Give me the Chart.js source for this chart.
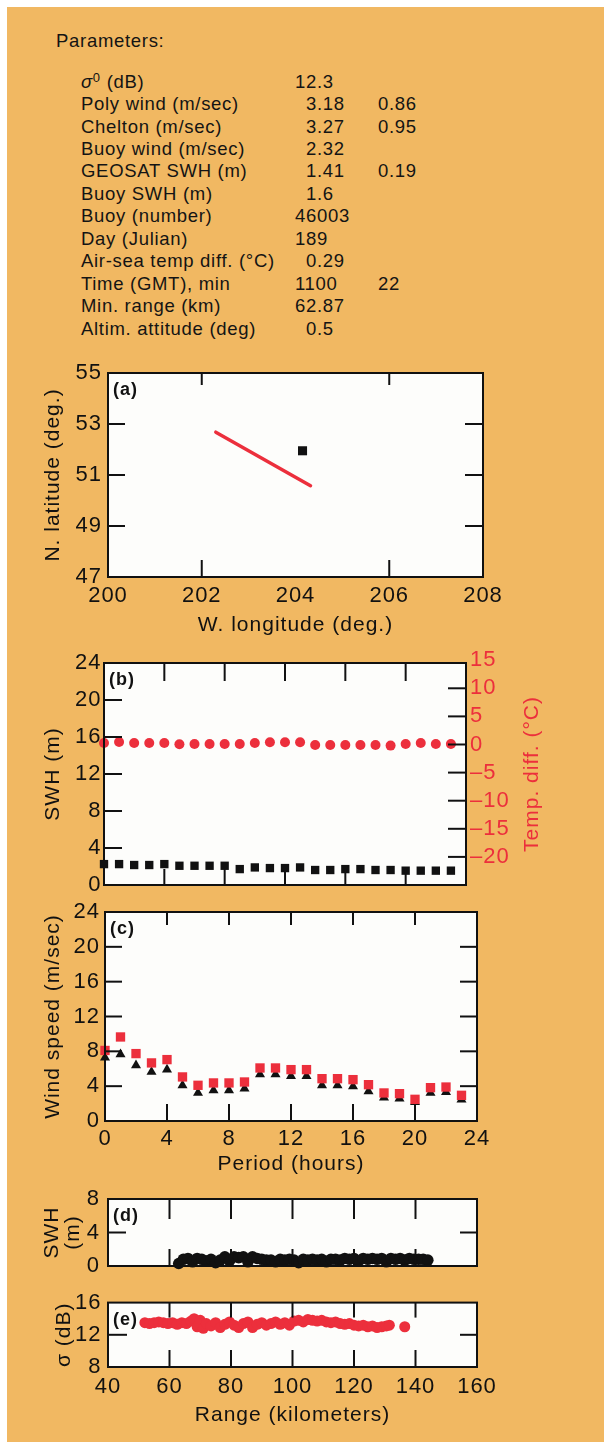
<!DOCTYPE html>
<html>
<head>
<meta charset="utf-8">
<script src="https://cdn.jsdelivr.net/npm/chart.js@4"></script>
<style>
  body { margin: 0; background: #fff; }
  #page { position: relative; width: 606px; height: 1442px; overflow: hidden; }
  #bg { position: absolute; left: 7px; top: 7px; width: 597px; height: 1435px; background: #f1b862; }
  .txt { position: absolute; font: 18.5px "Liberation Sans", Arial, sans-serif; letter-spacing: 0.7px;
         line-height: 22px; color: #141414; white-space: nowrap; }
  .txt sup { font-size: 13px; vertical-align: 6px; line-height: 0; }
  canvas { position: absolute; left: 0; }
</style>
</head>
<body>
<div id="page"><div id="bg"></div></div>
<script>
// parameter table
const paramLabels = ['<i>σ</i><sup>0</sup> (dB)', 'Poly wind (m/sec)', 'Chelton (m/sec)', 'Buoy wind (m/sec)',
  'GEOSAT SWH (m)', 'Buoy SWH (m)', 'Buoy (number)', 'Day (Julian)', 'Air-sea temp diff. (°C)',
  'Time (GMT), min', 'Min. range (km)', 'Altim. attitude (deg)'];
const paramValues = ['12.3', '3.18', '3.27', '2.32', '1.41', '1.6', '46003', '189', '0.29', '1100', '62.87', '0.5'];
const paramExtra = ['', '0.86', '0.95', '', '0.19', '', '', '', '', '22', '', ''];

// (a) track and buoy position
const trackLon = [202.3, 204.32];
const trackLat = [52.68, 50.58];
const buoyLon = [204.15];
const buoyLat = [51.95];
const lonTicks = [200, 202, 204, 206, 208];
const latTicks = [55, 53, 51, 49, 47];

// (b) and (c) hourly series
const hours = [0, 1, 2, 3, 4, 5, 6, 7, 8, 9, 10, 11, 12, 13, 14, 15, 16, 17, 18, 19, 20, 21, 22, 23];
const buoySwh = [2.26, 2.26, 2.16, 2.16, 2.26, 2.08, 2.08, 2.08, 2.08, 1.72, 1.9, 1.83,
  1.83, 1.9, 1.62, 1.62, 1.72, 1.72, 1.62, 1.62, 1.55, 1.55, 1.55, 1.55];
const tempDiff = [0.25, 0.45, 0.25, 0.25, 0.25, 0.05, 0.1, 0.1, 0.1, 0.1, 0.25, 0.4,
  0.4, 0.4, -0.1, -0.1, -0.1, -0.1, -0.1, -0.2, 0.1, 0.25, 0.1, 0.1];
const windAltim = [8.1, 9.65, 7.74, 6.67, 7.05, 5.06, 4.1, 4.37, 4.37, 4.48, 6.09, 6.09,
  5.9, 5.9, 4.86, 4.86, 4.75, 4.17, 3.22, 3.14, 2.49, 3.83, 3.9, 2.95];
const windBuoy = [7.28, 7.66, 6.4, 5.63, 5.9, 4.1, 3.22, 3.52, 3.52, 3.72, 5.36, 5.36,
  5.17, 5.17, 4.1, 4.1, 3.98, 3.41, 2.68, 2.57, 2.18, 3.22, 3.33, 2.45];
const hourTicks = [0, 4, 8, 12, 16, 20, 24];
const swhTicks = [24, 20, 16, 12, 8, 4, 0];
const tempTicks = [15, 10, 5, 0, -5, -10, -15, -20];

// (d) altimeter SWH along range
const dRange = [63, 64.5, 66, 67.5, 69, 70.5, 72, 73.5, 75, 76.5, 78, 79.5, 81, 82.5, 84, 85.5, 87, 88.5,
  90, 91.5, 93, 94.5, 96, 97.5, 99, 100.5, 102, 103.5, 105, 106.5, 108, 109.5, 111, 112.5, 114, 115.5,
  117, 118.5, 120, 121.5, 123, 124.5, 126, 127.5, 129, 130.5, 132, 133.5, 135, 136.5, 138, 139.5, 141, 142.5, 144];
const dSwh = [0.3, 0.8, 0.9, 0.5, 0.9, 0.8, 0.6, 0.8, 0.4, 0.7, 1.1, 0.6, 1.1, 1.0, 1.1, 0.5, 1.1, 0.9,
  0.8, 0.7, 0.7, 0.5, 0.8, 0.7, 0.8, 0.7, 0.4, 0.8, 0.7, 0.8, 0.7, 0.8, 0.5, 0.8, 0.8, 0.7,
  0.9, 0.8, 0.9, 0.6, 0.9, 0.8, 0.9, 0.8, 0.9, 0.5, 0.9, 0.8, 0.9, 0.7, 0.9, 0.8, 0.8, 0.8, 0.7];

// (e) sigma0 along range
const eRange = [52, 53.5, 55, 56.5, 58, 59.5, 61, 62.5, 64, 65.5, 67, 68, 69, 70, 71, 72, 73.5, 75, 76.5,
  78, 79.5, 81, 82.5, 84, 85.5, 87, 88.5, 90, 91.5, 93, 94.5, 96, 97.5, 99, 100.5, 102, 103.5, 105,
  106.5, 108, 109.5, 111, 112.5, 114, 115.5, 117, 118.5, 120, 121.5, 123, 124.5, 126, 127.5, 129,
  130.5, 131.5, 136.5];
const eSigma = [13.5, 13.4, 13.5, 13.6, 13.5, 13.4, 13.5, 13.3, 13.5, 13.4, 13.7, 14.0, 13.0, 13.8, 12.8,
  13.4, 13.1, 13.5, 12.9, 13.3, 13.6, 13.2, 12.9, 13.4, 13.6, 12.9, 13.3, 13.5, 13.2, 13.4, 13.6, 13.3,
  13.5, 13.2, 13.7, 13.8, 13.6, 13.9, 13.8, 13.7, 13.8, 13.6, 13.5, 13.6, 13.4, 13.3, 13.4, 13.2, 13.1,
  13.2, 13.0, 13.1, 12.9, 13.0, 13.1, 13.2, 13.0];
const rangeTicks = [40, 60, 80, 100, 120, 140, 160];

const RED = '#ec2f3c', INK = '#111';
const page = document.getElementById('page');

// text block
function addText(html, left, top) {
  const d = document.createElement('div');
  d.className = 'txt';
  d.style.left = left + 'px';
  d.style.top = top + 'px';
  d.innerHTML = html;
  page.appendChild(d);
}
addText('Parameters:', 56, 30);
paramLabels.forEach((lab, i) => {
  const top = 70.6 + i * 22.45;
  addText(lab, 81, top);
  addText(paramValues[i], /^\d\./.test(paramValues[i]) ? 306 : 295, top);
  if (paramExtra[i]) addText(paramExtra[i], 378, top);
});

Chart.defaults.font.family = "'Liberation Sans', Arial, sans-serif";
Chart.defaults.color = INK;

const pts = (xs, ys) => xs.map((x, i) => ({x, y: ys[i]}));

// white plot box, frame, inward ticks and panel letter
function framePlugin(f, top) {
  return {
    id: 'frame',
    beforeDraw(chart) {
      const {ctx, chartArea: a} = chart;
      ctx.letterSpacing = '1px';
      ctx.fillStyle = '#fdfdfb';
      ctx.fillRect(a.left, a.top, a.right - a.left, a.bottom - a.top);
    },
    afterDatasetsDraw(chart) {
      const {ctx, chartArea: a, scales} = chart;
      const len = f.len;
      ctx.save();
      ctx.strokeStyle = INK;
      ctx.lineWidth = 2;
      ctx.lineCap = 'butt';
      const seg = (x1, y1, x2, y2) => { ctx.beginPath(); ctx.moveTo(x1, y1); ctx.lineTo(x2, y2); ctx.stroke(); };
      (f.xTicks || []).forEach(v => {
        const px = scales.x.getPixelForValue(v);
        seg(px, a.top, px, a.top + len.top);
        seg(px, a.bottom, px, a.bottom - len.bottom);
      });
      (f.leftTicks || []).forEach(v => {
        const py = scales.y.getPixelForValue(v);
        seg(a.left, py, a.left + len.left, py);
      });
      (f.rightTicks || []).forEach(v => {
        const py = scales[f.rightAxis || 'y'].getPixelForValue(v);
        seg(a.right, py, a.right - len.right, py);
      });
      ctx.strokeRect(a.left, a.top, a.right - a.left, a.bottom - a.top);
      ctx.fillStyle = INK;
      ctx.font = "bold 18px 'Liberation Sans', Arial, sans-serif";
      ctx.textBaseline = 'middle';
      ctx.textAlign = 'left';
      ctx.fillText(f.label, a.left + 5, a.top + 17);
      (f.extra || []).forEach(t => {
        ctx.save();
        ctx.translate(t.x, t.y - top);
        ctx.rotate(-Math.PI / 2);
        ctx.fillStyle = t.color;
        ctx.font = "21px 'Liberation Sans', Arial, sans-serif";
        ctx.textAlign = 'center';
        ctx.fillText(t.text, 0, 0);
        ctx.restore();
      });
      ctx.restore();
    }
  };
}

function axis(o) {
  return {
    type: 'linear', position: o.pos, min: o.min, max: o.max,
    afterBuildTicks: s => { s.ticks = o.labels.map(v => ({value: v})); },
    afterFit: s => { if (o.pos === 'bottom') s.height = o.size; else s.width = o.size; },
    grid: {display: false, drawTicks: false},
    border: {display: false},
    ticks: {display: o.show !== false, padding: o.pad || 0, color: o.color || INK, autoSkip: false,
      maxRotation: 0, font: {size: 22, lineHeight: 1}, callback: o.fmt || (v => v)},
    title: o.title ? {display: true, text: o.title, color: o.color || INK,
      font: {size: 21, lineHeight: o.lh || 1.2}, padding: o.titlePad} : {display: false}
  };
}

function panel(p) {
  const cv = document.createElement('canvas');
  cv.width = 606; cv.height = p.height;
  cv.style.top = p.top + 'px';
  page.appendChild(cv);
  const a = p.area;
  const scales = {
    x: axis(Object.assign({pos: 'bottom', size: p.top + p.height - a.b}, p.x)),
    y: axis(Object.assign({pos: 'left', size: a.l}, p.y))
  };
  if (p.y2) scales.y2 = axis(Object.assign({pos: 'right', size: 606 - a.r}, p.y2));
  return new Chart(cv, {
    type: 'scatter',
    data: {datasets: p.datasets},
    options: {
      responsive: false, animation: false,
      layout: {padding: {top: a.t - p.top, left: 0, bottom: 0, right: p.y2 ? 0 : 606 - a.r}},
      plugins: {legend: {display: false}, tooltip: {enabled: false}},
      scales
    },
    plugins: [framePlugin(p.frame, p.top)]
  });
}

const dot = (data, color, style, r, axisId) => ({
  data, yAxisID: axisId || 'y', pointStyle: style, pointRadius: r, pointBackgroundColor: color,
  pointBorderWidth: 0, showLine: false, clip: false
});

// (a)
panel({
  top: 350, height: 290, area: {l: 108, t: 373, r: 483, b: 577},
  x: {min: 200, max: 208, labels: lonTicks, pad: 8, title: 'W. longitude (deg.)', titlePad: {bottom: 2.4}},
  y: {min: 47, max: 55, labels: latTicks, pad: 6, title: 'N. latitude (deg.)', titlePad: {top: 40.5}},
  frame: {label: '(a)', len: {top: 12, bottom: 17, left: 17, right: 18}, xTicks: [202, 206], leftTicks: [53, 51, 49], rightTicks: [53, 51, 49]},
  datasets: [
    {data: pts(trackLon, trackLat), showLine: true, borderColor: RED, borderWidth: 3.5, borderCapStyle: 'round', pointRadius: 0},
    dot(pts(buoyLon, buoyLat), INK, 'rect', 6.4)
  ]
});

// (b)
panel({
  top: 645, height: 255, area: {l: 104, t: 663, r: 466, b: 886},
  x: {min: 0, max: 24, labels: hourTicks, show: false},
  y: {min: 0, max: 24, labels: swhTicks, pad: 2.5, title: 'SWH (m)', titlePad: {top: 41}},
  y2: {min: -25, max: 14.5, labels: tempTicks, pad: 4, color: RED, fmt: v => v < 0 ? '–' + (-v) : String(v)},
  frame: {label: '(b)', len: {top: 18, bottom: 16, left: 18, right: 18}, xTicks: [4, 8, 12, 16, 20],
    leftTicks: [20, 16, 12, 8, 4], rightTicks: [10, 5, 0, -5, -10, -15, -20], rightAxis: 'y2',
    extra: [{text: 'Temp. diff. (°C)', x: 532, y: 774, color: RED}]},
  datasets: [
    dot(pts(hours, tempDiff), RED, 'circle', 5, 'y2'),
    dot(pts(hours, buoySwh), INK, 'rect', 5.9)
  ]
});

// (c)
panel({
  top: 895, height: 285, area: {l: 105, t: 912, r: 477, b: 1121},
  x: {min: 0, max: 24, labels: hourTicks, pad: 7, title: 'Period (hours)', titlePad: {bottom: 3.4}},
  y: {min: 0, max: 24, labels: swhTicks, pad: 5, title: 'Wind speed (m/sec)', titlePad: {top: 41}},
  frame: {label: '(c)', len: {top: 13, bottom: 17, left: 17, right: 17}, xTicks: [4, 8, 12, 16, 20],
    leftTicks: [20, 16, 12, 8, 4], rightTicks: [20, 16, 12, 8, 4]},
  datasets: [
    dot(pts(hours, windAltim), RED, 'rect', 6.6),
    dot(pts(hours, windBuoy), INK, 'triangle', 5.8)
  ]
});

// (d)
panel({
  top: 1180, height: 105, area: {l: 108, t: 1196, r: 477, b: 1272},
  x: {min: 40, max: 160, labels: rangeTicks, show: false},
  y: {min: 0, max: 8, labels: [8, 4, 0], pad: 8, title: ['SWH', '(m)'], lh: 1.03, titlePad: {top: 40.9}},
  frame: {label: '(d)', len: {top: 20, bottom: 17, left: 18, right: 17}, xTicks: [60, 80, 100, 120, 140],
    leftTicks: [4], rightTicks: [4]},
  datasets: [dot(pts(dRange, dSwh), INK, 'circle', 5.8)]
});

// (e)
panel({
  top: 1285, height: 157, area: {l: 108, t: 1298, r: 477, b: 1367},
  x: {min: 40, max: 160, labels: rangeTicks, pad: 8.7, title: 'Range (kilometers)', titlePad: {bottom: 14.4}},
  y: {min: 8, max: 16, labels: [16, 12, 8], pad: 6.6, title: 'σ (dB)', titlePad: {top: 51.4}},
  frame: {label: '(e)', len: {top: 15, bottom: 17, left: 19, right: 17}, xTicks: [60, 80, 100, 120, 140],
    leftTicks: [12], rightTicks: [12]},
  datasets: [dot(pts(eRange, eSigma), RED, 'circle', 5.5)]
});
</script>
</body>
</html>
